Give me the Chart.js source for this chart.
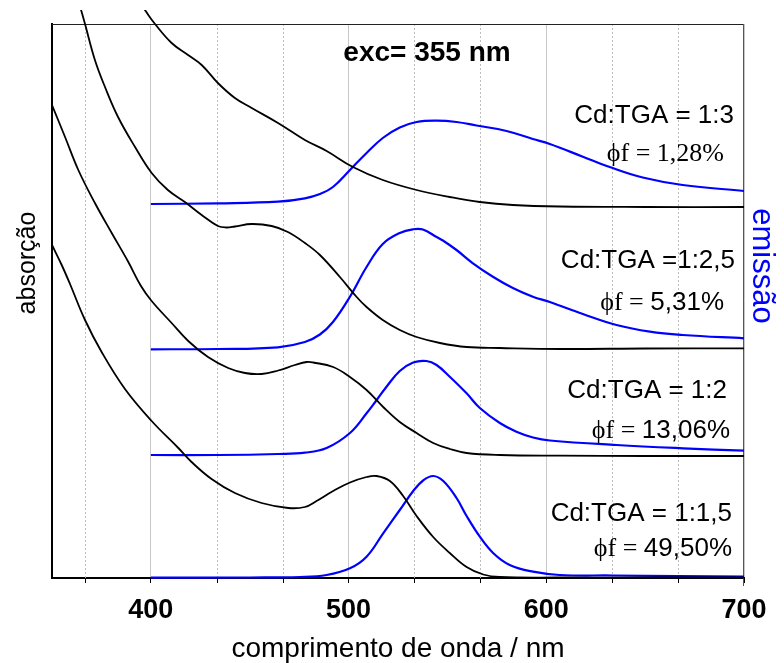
<!DOCTYPE html>
<html><head><meta charset="utf-8">
<script src="https://cdn.jsdelivr.net/npm/chart.js@4.4.1/dist/chart.umd.min.js"></script>
<style>html,body{margin:0;padding:0;background:#fff;}#wrap{width:784px;height:663px;}</style>
</head><body><div id="wrap"><canvas id="c" width="784" height="663"></canvas></div>
<script>
// ---- tick labels ----
const majorTicks = [400, 500, 600, 700];
const minorTicks = [366.67, 433.33, 466.67, 533.33, 566.67, 633.33, 666.67];

// ---- absorption spectra (offset, arbitrary units) ----
const abs13_nm  = [393.5, 397.0, 402.1, 410.5, 418.8, 425.7, 433.9, 442.5, 451.0, 464.3, 477.9, 488.9, 502.2, 517.3, 534.4, 551.2, 566.4, 583.1, 606.8, 650, 700];
const abs13_val = [578, 568, 554, 535, 523, 513, 495, 480, 470, 455, 438, 427, 411, 398, 388, 381, 376, 373, 371.5, 371, 371];

const abs25_nm  = [363.1, 364.7, 366.7, 371.7, 376.8, 383.4, 392.0, 400.4, 408.6, 417.2, 425.7, 433.9, 438.2, 442.5, 451.0, 461.1, 469.3, 477.9, 485.5, 495.6, 504.1, 509.1, 517.3, 525.9, 534.4, 546.2, 559.7, 576.5, 606.8, 650, 700];
const abs25_val = [578, 568, 554, 518, 491, 461, 431, 405, 388, 376, 363, 352, 350.5, 351.5, 354, 352, 346, 335, 323, 301, 281, 271, 258, 248, 241, 235, 231, 230, 229, 229.5, 229.7];

const abs2_nm  = [350, 356.6, 363.3, 371.7, 380.2, 388.6, 395.0, 400.4, 410.5, 418.9, 428.9, 439.1, 447.6, 456.0, 464.4, 472.9, 478.8, 482.1, 492.2, 500.7, 509.1, 517.5, 525.9, 534.4, 542.8, 551.2, 559.7, 576.5, 606.8, 650, 700];
const abs2_val = [473, 441, 408, 375, 345, 316, 292, 277, 255, 237, 221, 210, 205, 204, 207.5, 213, 216, 215.5, 211, 201, 188, 171, 156, 145, 135, 129, 125, 123, 122.3, 122, 122];

const abs15_nm  = [350, 354.9, 359.1, 366.7, 375.1, 386.9, 400.4, 413.9, 420.6, 430.7, 442.5, 456.0, 469.5, 477.9, 483.8, 492.2, 500.7, 509.1, 514.2, 520.9, 527.6, 534.4, 542.8, 551.2, 559.7, 568.1, 576.5, 606.8, 650, 700];
const abs15_val = [333, 313, 294, 258, 226, 189, 157, 130, 116, 99, 85, 75, 70, 71, 77, 87, 95.5, 101, 102, 97, 82, 62, 41, 25, 11, 3.5, 1, 0.5, 0.5, 0.5];

// ---- emission spectra (offset, arbitrary units) ----
const emi13_nm  = [400, 433.9, 464.3, 477.9, 485.5, 492.1, 500.7, 509.1, 517.3, 525.9, 534.4, 544.5, 554.6, 564.7, 579.9, 593.2, 601.8, 618.5, 632.1, 648.8, 669.0, 700];
const emi13_val = [374, 374.7, 376.3, 379.7, 384, 391, 408, 425, 440, 450.5, 456, 457.3, 456, 452.5, 447, 439, 434, 421.3, 411, 400.5, 393, 387];

const emi25_nm  = [400, 433.9, 464.3, 477.9, 485.5, 492.1, 500.7, 509.1, 517.3, 525.9, 532.5, 537.6, 544.5, 547.7, 554.6, 562.9, 573.0, 583.1, 593.2, 601.8, 618.5, 635.5, 652.4, 669.0, 700];
const emi25_val = [228.7, 229, 230.7, 236, 243.5, 256, 281.3, 311, 334, 345, 348.7, 348.5, 341, 337.5, 328, 314.7, 301.3, 290, 281.3, 276, 264, 253, 246.3, 243, 239.7];

const emi2_nm  = [400, 433.9, 464.3, 477.9, 488.9, 500.7, 509.1, 514.2, 519.2, 525.9, 532.7, 539.4, 544.5, 551.2, 559.7, 566.4, 576.5, 584.9, 593.3, 601.8, 635.5, 669.2, 700];
const emi2_val = [123, 123, 124, 125.3, 130, 145, 164.7, 178, 191.3, 207, 215.5, 217, 213, 201.3, 184.7, 170, 155, 146.3, 140.5, 137.5, 133, 129.7, 127.3];

const emi15_nm  = [400, 450.1, 475.4, 488.9, 500.7, 509.1, 517.5, 525.9, 532.7, 537.7, 542.8, 547.9, 554.6, 559.7, 566.4, 573.1, 581.5, 593.3, 606.8, 633.6, 700];
const emi15_val = [0.3, 0.5, 1, 3, 9.7, 21.3, 44.7, 68, 87, 97.5, 102, 97, 80, 62, 41.3, 25, 13, 6.3, 3, 2.5, 1.3];

// ---- texts ----
const sampleLabels = ['Cd:TGA = 1:3', 'Cd:TGA =1:2,5', 'Cd:TGA = 1:2', 'Cd:TGA = 1:1,5'];
const yieldPrefix = '\u03D5f = ';
const yieldValues = ['1,28%', '5,31%', '13,06%', '49,50%'];
const excLabel = 'exc= 355 nm';
const xTitle = 'comprimento de onda / nm';
const yTitleLeft = 'absorção';
const yTitleRight = 'emissão';

// ---- text layout (pixels) ----
const SANS = '"Liberation Sans", Arial, sans-serif';
const SERIF = '"Liberation Serif", "DejaVu Serif", "Times New Roman", serif';
const labelPos = [ {right: 734, base: 123}, {right: 735, base: 268}, {right: 727, base: 398}, {right: 732, base: 521} ];
const yieldPos = [ {right: 724, base: 161, serifValue: true}, {right: 724, base: 310}, {right: 730, base: 438}, {right: 732, base: 556} ];

function pts(xs, ys) { return xs.map((v, i) => ({x: v, y: ys[i]})); }

const BLACK = '#000000', BLUE = '#0000ff';
const series = [
  [abs13_nm, abs13_val, BLACK], [abs25_nm, abs25_val, BLACK], [abs2_nm, abs2_val, BLACK], [abs15_nm, abs15_val, BLACK],
  [emi13_nm, emi13_val, BLUE], [emi25_nm, emi25_val, BLUE], [emi2_nm, emi2_val, BLUE], [emi15_nm, emi15_val, BLUE]
];

const decor = {
  id: 'decor',
  beforeDatasetsDraw(chart) {
    const {ctx, chartArea: a, scales: {x}} = chart;
    ctx.save();
    ctx.lineWidth = 1;
    ctx.strokeStyle = '#bdbdbd';
    ctx.setLineDash([2, 2]);
    minorTicks.forEach(v => {
      const px = Math.round(x.getPixelForValue(v)) + 0.5;
      ctx.beginPath(); ctx.moveTo(px, a.top); ctx.lineTo(px, a.bottom); ctx.stroke();
    });
    ctx.setLineDash([]);
    ctx.strokeStyle = '#000';
    minorTicks.forEach(v => {
      const px = Math.round(x.getPixelForValue(v)) + 0.5;
      ctx.beginPath(); ctx.moveTo(px, a.bottom); ctx.lineTo(px, a.bottom + 5); ctx.stroke();
    });
    // frame top & right
    ctx.strokeStyle = '#222';
    ctx.beginPath(); ctx.moveTo(a.left, a.top + 0.5); ctx.lineTo(a.right, a.top + 0.5); ctx.stroke();
    ctx.strokeStyle = '#555';
    ctx.beginPath(); ctx.moveTo(a.right - 0.5, a.top); ctx.lineTo(a.right - 0.5, a.bottom + 8); ctx.stroke();
    ctx.restore();
  },
  afterDraw(chart) {
    const {ctx, chartArea: a} = chart;
    ctx.save();
    ctx.fillStyle = '#000';
    ctx.textBaseline = 'alphabetic';
    // exc label
    ctx.font = 'bold 28px ' + SANS;
    ctx.textAlign = 'center';
    ctx.fillText(excLabel, 427, 61);
    // sample labels
    ctx.textAlign = 'right';
    sampleLabels.forEach((t, i) => {
      ctx.font = '26px ' + SANS;
      ctx.fillText(t, labelPos[i].right, labelPos[i].base);
    });
    yieldValues.forEach((t, i) => {
      const p = yieldPos[i];
      ctx.font = (p.serifValue ? '26px ' + SERIF : '26px ' + SANS);
      const w = ctx.measureText(t).width;
      ctx.fillText(t, p.right, p.base);
      ctx.font = '26px ' + SERIF;
      ctx.fillText(yieldPrefix, p.right - w, p.base);
    });
    // x title
    ctx.textAlign = 'center';
    ctx.font = '28px ' + SANS;
    ctx.fillText(xTitle, (a.left + a.right) / 2, 657);
    // y titles
    ctx.save();
    ctx.translate(35, 263);
    ctx.rotate(-Math.PI / 2);
    ctx.font = '25px ' + SANS;
    ctx.fillText(yTitleLeft, 0, 0);
    ctx.restore();
    ctx.save();
    ctx.translate(753, 266);
    ctx.rotate(Math.PI / 2);
    ctx.font = '31px ' + SANS;
    ctx.fillStyle = BLUE;
    ctx.fillText(yTitleRight, 0, 0);
    ctx.restore();
    ctx.restore();
  }
};

new Chart(document.getElementById('c'), {
  type: 'line',
  data: {
    datasets: series.map(([xs, ys, col]) => ({
      data: pts(xs, ys),
      borderColor: col,
      borderWidth: col === BLUE ? 2.2 : 1.8,
      pointRadius: 0,
      fill: false,
      tension: 0.4,
      clip: {left: 0, top: 14, right: 1, bottom: 2}
    }))
  },
  options: {
    responsive: false,
    animation: false,
    devicePixelRatio: 1,
    layout: {padding: {top: 24, left: 0, right: 0, bottom: 0}},
    plugins: {legend: {display: false}, tooltip: {enabled: false}},
    scales: {
      x: {
        type: 'linear', min: 350, max: 700,
        afterBuildTicks: s => { s.ticks = majorTicks.map(v => ({value: v})); },
        afterFit: s => { s.height = 85; },
        grid: {color: '#c8c8c8', lineWidth: 1, tickColor: '#000', tickLength: 5, tickWidth: 1},
        border: {display: true, color: '#000', width: 2},
        ticks: {color: '#000', font: {family: SANS, size: 27, weight: 'bold'}, padding: 11, maxRotation: 0}
      },
      y: {
        type: 'linear', min: 0, max: 554, position: 'left',
        afterFit: s => { s.width = 52; },
        grid: {display: false},
        border: {display: true, color: '#000', width: 2},
        ticks: {display: false}
      },
      y2: {
        type: 'linear', min: 0, max: 554, position: 'right',
        afterFit: s => { s.width = 40; },
        grid: {display: false},
        border: {display: false},
        ticks: {display: false}
      }
    }
  },
  plugins: [decor]
});
</script></body></html>
